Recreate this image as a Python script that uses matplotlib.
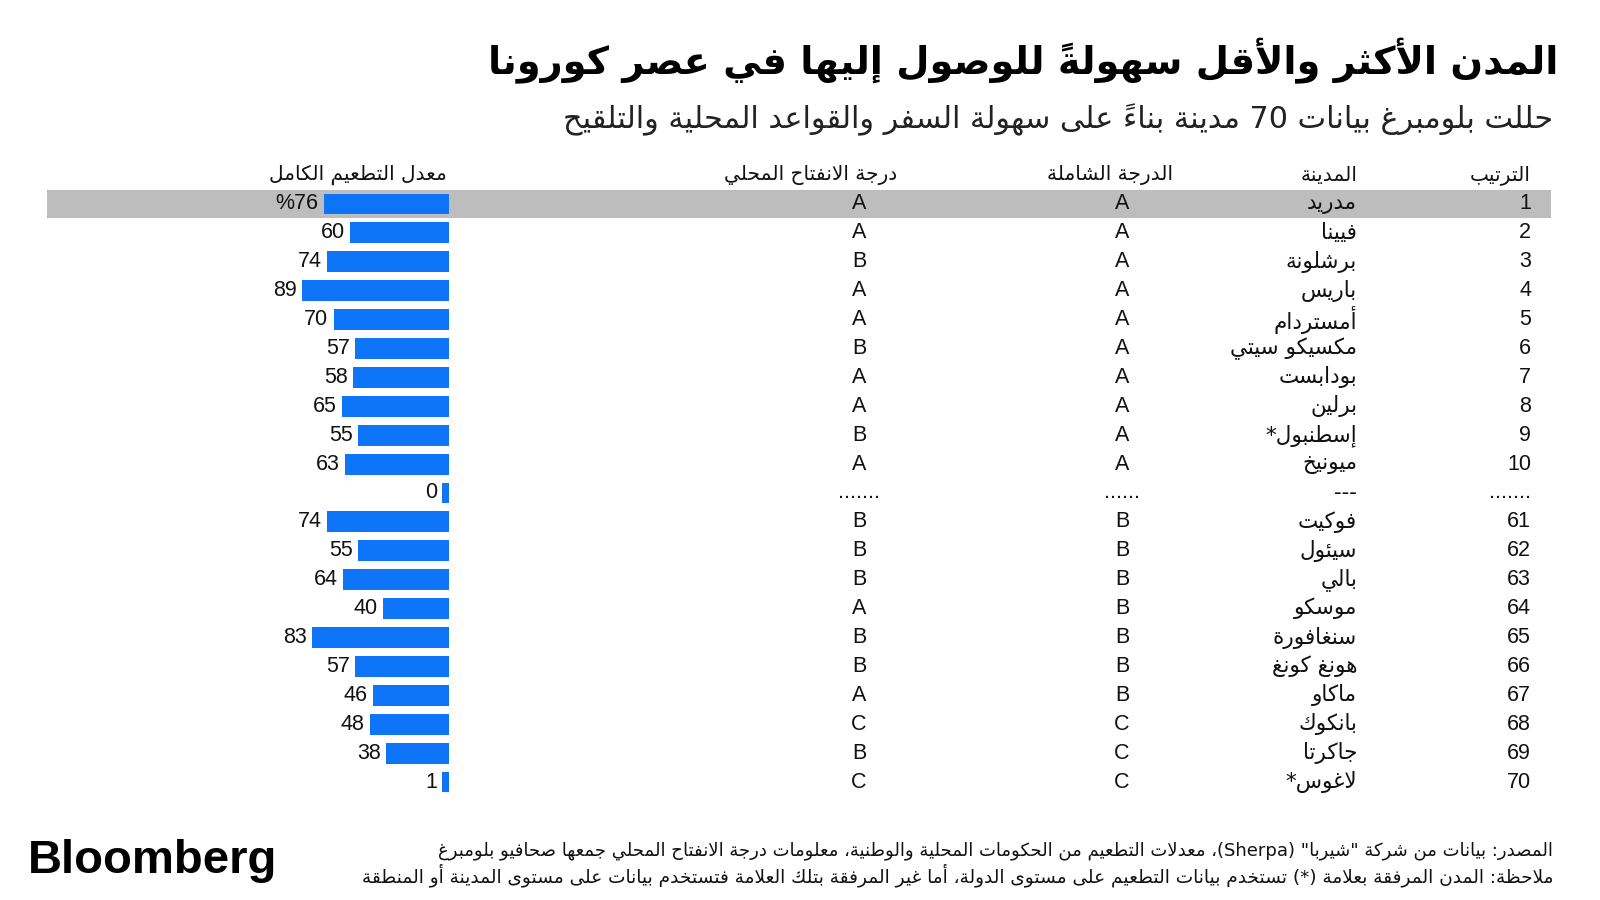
import numpy as np
import matplotlib
matplotlib.use('Agg')
import matplotlib.pyplot as plt

# ---- data ----
title = 'المدن الأكثر والأقل سهولةً للوصول إليها في عصر كورونا'
subtitle = 'حللت بلومبرغ بيانات 70 مدينة بناءً على سهولة السفر والقواعد المحلية والتلقيح'
headers = ['الترتيب', 'المدينة', 'الدرجة الشاملة', 'درجة الانفتاح المحلي', 'معدل التطعيم الكامل']
ranks = ['1', '2', '3', '4', '5', '6', '7', '8', '9', '10', '.......',
         '61', '62', '63', '64', '65', '66', '67', '68', '69', '70']
cities = ['مدريد', 'فيينا', 'برشلونة', 'باريس', 'أمستردام', 'مكسيكو سيتي', 'بودابست',
          'برلين', 'إسطنبول*', 'ميونيخ', '---',
          'فوكيت', 'سيئول', 'بالي', 'موسكو', 'سنغافورة', 'هونغ كونغ', 'ماكاو',
          'بانكوك', 'جاكرتا', 'لاغوس*']
overall = ['A'] * 10 + ['......'] + ['B'] * 7 + ['C'] * 3
local_open = ['A', 'A', 'B', 'A', 'A', 'B', 'A', 'A', 'B', 'A', '.......',
              'B', 'B', 'B', 'A', 'B', 'B', 'A', 'C', 'B', 'C']
vaccinated = [76, 60, 74, 89, 70, 57, 58, 65, 55, 63, 0,
              74, 55, 64, 40, 83, 57, 46, 48, 38, 1]
source = ('المصدر: بيانات من شركة "شيربا" (Sherpa)، معدلات التطعيم من الحكومات المحلية والوطنية، '
          'معلومات درجة الانفتاح المحلي جمعها صحافيو بلومبرغ')
note = ('ملاحظة: المدن المرفقة بعلامة (*) تستخدم بيانات التطعيم على مستوى الدولة، '
        'أما غير المرفقة بتلك العلامة فتستخدم بيانات على مستوى المدينة أو المنطقة')

# ---- tiny arabic shaper (matplotlib has no text shaping / bidi) ----
DUAL = {'ئ': 0xFE89, 'ب': 0xFE8F, 'ت': 0xFE95, 'ث': 0xFE99, 'ج': 0xFE9D, 'ح': 0xFEA1,
        'خ': 0xFEA5, 'س': 0xFEB1, 'ش': 0xFEB5, 'ص': 0xFEB9, 'ض': 0xFEBD, 'ط': 0xFEC1,
        'ظ': 0xFEC5, 'ع': 0xFEC9, 'غ': 0xFECD, 'ف': 0xFED1, 'ق': 0xFED5, 'ك': 0xFED9,
        'ل': 0xFEDD, 'م': 0xFEE1, 'ن': 0xFEE5, 'ه': 0xFEE9, 'ي': 0xFEF1}
RIGHT = {'آ': 0xFE81, 'أ': 0xFE83, 'ؤ': 0xFE85, 'إ': 0xFE87, 'ا': 0xFE8D, 'ة': 0xFE93,
         'د': 0xFEA9, 'ذ': 0xFEAB, 'ر': 0xFEAD, 'ز': 0xFEAF, 'و': 0xFEED, 'ى': 0xFEEF}
NONJ = {'ء': 0xFE80}
LAMALEF = {'آ': 0xFEF5, 'أ': 0xFEF7, 'إ': 0xFEF9, 'ا': 0xFEFB}
MARKS = set(chr(c) for c in range(0x064B, 0x0653))
MIRROR = {'(': ')', ')': '('}


def kind(t):
    c = t[0]
    if len(c) > 1 or c in RIGHT:
        return 'R'
    if c in DUAL:
        return 'D'
    if c in NONJ:
        return 'U'
    return None


def shape(s):
    toks = []
    for ch in s:
        if ch in MARKS and toks:
            toks[-1][1] += ch
        else:
            toks.append([ch, ''])
    merged = []
    i = 0
    while i < len(toks):
        if toks[i][0] == 'ل' and i + 1 < len(toks) and toks[i + 1][0] in LAMALEF:
            merged.append(['ل' + toks[i + 1][0], toks[i][1] + toks[i + 1][1]])
            i += 2
        else:
            merged.append(toks[i])
            i += 1
    units = []
    n = len(merged)
    for i, t in enumerate(merged):
        k = kind(t)
        c = t[0]
        if k is None:
            units.append(t[1] + c)
            continue
        jp = k in ('D', 'R') and i > 0 and kind(merged[i - 1]) == 'D'
        jn = k == 'D' and i + 1 < n and kind(merged[i + 1]) in ('D', 'R')
        if len(c) > 1:
            base = LAMALEF[c[1]]
        else:
            base = DUAL.get(c) or RIGHT.get(c) or NONJ.get(c)
        if k == 'U':
            off = 0
        elif k == 'R':
            off = 1 if jp else 0
        else:
            off = 3 if (jp and jn) else 1 if jp else 2 if jn else 0
        # mark first: in visual order the zero-width mark sits just left of its base
        units.append(t[1] + chr(base + off))
    out = units[::-1]

    def ltr(u):
        return u[-1].isascii() and u[-1].isalnum()

    res = []
    i = 0
    while i < len(out):
        if ltr(out[i]):
            j = i
            while j < len(out) and ltr(out[j]):
                j += 1
            res.extend(out[i:j][::-1])
            i = j
        else:
            res.append(MIRROR.get(out[i], out[i]))
            i += 1
    return ''.join(res)


# ---- figure ----
W, H = 1600, 900
fig = plt.figure(figsize=(16, 9), dpi=100)
fig.patch.set_facecolor('white')

AR = ['DejaVu Sans']
LAT = ['Liberation Sans', 'DejaVu Sans']
INK = '#111111'
BLUE = '#0E74F8'
GREY = '#BDBDBD'

n = len(ranks)
top_px, bot_px = 189.5, 796.5
ax_rect_y = (H - bot_px) / H
ax_rect_h = (bot_px - top_px) / H

ax = fig.add_axes([0, ax_rect_y, 1, ax_rect_h])
ax.set_xlim(0, W)
ax.set_ylim(n - 0.5, -0.5)
ax.axis('off')

# highlight first row
ax.axhspan(-0.48, 0.48, xmin=47 / W, xmax=1551 / W, color=GREY, zorder=0, lw=0)

x_rank, x_city, x_over, x_local = 1531, 1357, 1122, 859

# headers
hs = 14.5
ax.text(x_rank, -1.0, shape(headers[0]), ha='right', va='center', fontsize=hs, family=AR, color=INK)
ax.text(x_city, -1.0, shape(headers[1]), ha='right', va='center', fontsize=hs, family=AR, color=INK)
ax.text(1110, -1.0, shape(headers[2]), ha='center', va='center', fontsize=hs, family=AR, color=INK)
ax.text(811, -1.0, shape(headers[3]), ha='center', va='center', fontsize=hs, family=AR, color=INK)
ax.text(447, -1.0, shape(headers[4]), ha='right', va='center', fontsize=hs, family=AR, color=INK)

for i in range(n):
    ax.text(x_rank, i, ranks[i], ha='right', va='center', fontsize=15.5, family=LAT, color=INK)
    ax.text(x_city, i, shape(cities[i]), ha='right', va='center', fontsize=15.5, family=AR, color=INK)
    ax.text(x_over, i, overall[i], ha='center', va='center', fontsize=15.5, family=LAT, color=INK)
    ax.text(x_local, i, local_open[i], ha='center', va='center', fontsize=15.5, family=LAT, color=INK)

# bars (grow to the left)
bar_right, px_per_unit = 449, 1.65
span = 100
axb = fig.add_axes([(bar_right - span * px_per_unit) / W, ax_rect_y, span * px_per_unit / W, ax_rect_h])
axb.set_xlim(span, 0)
axb.set_ylim(n - 0.5, -0.5)
axb.axis('off')
axb.patch.set_alpha(0)

vals = np.array(vaccinated, dtype=float)
shown = np.maximum(vals, 4)
y = np.arange(n)
axb.barh(y, shown, height=0.72, color=BLUE, lw=0)
labels = [('%' + str(v)) if i == 0 else str(v) for i, v in enumerate(vaccinated)]
for yi, w, lab in zip(y, shown, labels):
    axb.text(w + 3.2, yi, lab, ha='right', va='center', fontsize=15.5, family=LAT, color=INK)

# title block
fig.text(1558 / W, 1 - 61 / H, shape(title), ha='right', va='center', fontsize=27.5,
         fontweight='bold', family=AR, color='black')
fig.text(1553 / W, 1 - 120 / H, shape(subtitle), ha='right', va='center', fontsize=21.8,
         family=AR, color='#222222')

# footer
fig.text(1553 / W, 1 - 851 / H, shape(source), ha='right', va='center', fontsize=13,
         family=AR, color=INK)
fig.text(1553 / W, 1 - 875 / H, shape(note), ha='right', va='center', fontsize=13.3,
         family=AR, color=INK)
fig.text(28 / W, 1 - 873 / H, 'Bloomberg', ha='left', va='baseline', fontsize=34,
         fontweight='bold', family=LAT, color='black')

fig.savefig('out.png', dpi=100, facecolor='white')
